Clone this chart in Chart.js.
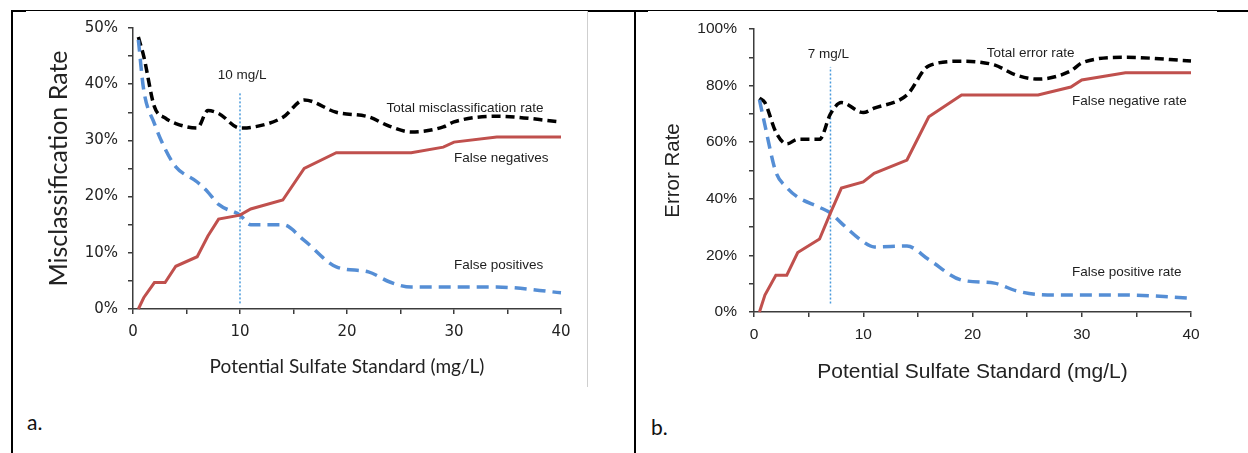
<!DOCTYPE html>
<html>
<head>
<meta charset="utf-8">
<script src="https://cdn.jsdelivr.net/npm/chart.js@4.4.1/dist/chart.umd.min.js"></script>
<style>
  body { margin: 0; background: #fff; }
  #page { position: relative; width: 1248px; height: 453px; overflow: hidden; background: #fff; }
  .rule { position: absolute; background: #000; }
  .frame { position: absolute; background: #cfcfcf; }
  canvas { position: absolute; }
  .tag { position: absolute; font-family: Lato, sans-serif; font-size: 21px; color: #111; line-height: 1; }
</style>
</head>
<body>
<div id="page">
  <!-- table borders -->
  <div class="rule" style="left:11px;top:10px;width:1237px;height:1px"></div>
  <div class="rule" style="left:11px;top:10px;width:15px;height:2px"></div>
  <div class="rule" style="left:587px;top:10px;width:61px;height:2px"></div>
  <div class="rule" style="left:1217px;top:10px;width:31px;height:2px"></div>
  <div class="rule" style="left:11px;top:10px;width:2px;height:443px"></div>
  <div class="rule" style="left:634px;top:10px;width:2px;height:443px"></div>
  <div class="frame" style="left:587px;top:11px;width:1px;height:376px"></div>

  <canvas id="chartA" width="565" height="375" style="left:20px;top:10px"></canvas>
  <canvas id="chartB" width="600" height="382" style="left:640px;top:10px"></canvas>

  <div class="tag" style="left:27px;top:411px">a.</div>
  <div class="tag" style="left:651px;top:416px">b.</div>
</div>
<script>
// sulfate standard values (mg/L) used by both panels
const sulfate = [0.5, 1, 2, 3, 4, 6, 7, 8, 10, 11, 14, 16, 19, 22, 24, 26, 29, 30, 34, 40]

// panel a - misclassification rates (%)
const falseNegA = [0, 2, 4.7, 4.7, 7.6, 9.3, 13, 16, 16.7, 17.8, 19.4, 25, 27.8, 27.8, 27.8, 27.8, 28.8, 29.7, 30.6, 30.6]
const falsePosA = [47.9, 39, 33, 28.5, 25.3, 22.6, 20.8, 18.6, 16.7, 15, 15, 12.2, 7.5, 6.6, 4.8, 3.9, 3.9, 3.9, 3.9, 2.9]
const totalA = [48.4, 45, 36, 34, 33, 32.2, 35.3, 34.8, 32.2, 32.3, 34.1, 37.2, 35, 34.2, 32.5, 31.5, 32.4, 33.3, 34.3, 33.3]
const cutoffA = 10
const cutoffSpanA = [1, 38.6]

// panel b - error rates (%)
const falseNegB = [0, 6, 13, 13, 21, 25.8, 35, 43.8, 46, 49, 53.7, 69, 76.7, 76.7, 76.7, 76.7, 79.5, 82, 84.5, 84.5]
const falsePosB = [75, 66, 49.5, 44, 40.6, 37, 35, 31.4, 24.8, 23, 23.3, 18.5, 11.3, 10.2, 7.5, 6.2, 6, 6, 6, 4.9]
const totalB = [75.6, 74, 63.6, 59.4, 61, 61, 70, 74, 70.5, 72, 76.7, 87, 88.6, 87.3, 83.7, 82.3, 85.2, 88, 90, 88.7]
const cutoffB = 7
const cutoffSpanB = [3, 86.6]

const xTitle = 'Potential Sulfate Standard (mg/L)'

function points(ys) {
    return ys.map((y, i) => ({x: sulfate[i], y: y}))
}

// text labels placed in data units
const notesPlugin = {
    id: 'notes',
    afterDatasetsDraw(chart, args, opts) {
        const {ctx, scales} = chart
        ctx.save()
        ctx.fillStyle = opts.color
        ctx.font = opts.font
        ctx.textBaseline = 'middle'
        opts.items.forEach(n => {
            ctx.textAlign = n.align || 'left'
            ctx.fillText(n.text, scales.x.getPixelForValue(n.x), scales.y.getPixelForValue(n.y))
        })
        ctx.restore()
    }
}

function series(fn, fp, total, cutoff, span) {
    return [
        {data: points(fn), borderColor: '#C0504D', borderWidth: 3, tension: 0},
        {data: points(fp), borderColor: '#558ED5', borderWidth: 3.5, borderDash: [12, 7], cubicInterpolationMode: 'monotone'},
        {data: points(total), borderColor: '#000', borderWidth: 3.5, borderDash: [9, 5], cubicInterpolationMode: 'monotone'},
        {data: span.map(v => ({x: cutoff, y: v})), borderColor: '#4A9BDC', borderWidth: 1.5, borderDash: [2, 2]}
    ]
}

function makeChart(id, p) {
    return new Chart(document.getElementById(id), {
        type: 'line',
        data: {datasets: series(p.fn, p.fp, p.total, p.cutoff, p.span)},
        options: {
            responsive: false,
            animation: false,
            devicePixelRatio: 1,
            layout: {padding: {top: p.padTop, right: p.padRight, left: 0, bottom: 0}},
            elements: {point: {radius: 0}, line: {borderCapStyle: 'butt'}},
            datasets: {line: {clip: false, fill: false}},
            plugins: {
                legend: {display: false},
                tooltip: {enabled: false},
                notes: {items: p.notes, font: '13.5px "Liberation Sans", Arial', color: '#1e1e1e'}
            },
            scales: {
                x: {
                    type: 'linear', min: 0, max: 40,
                    border: {display: true, color: '#3c3c3c', width: 1.5},
                    grid: {drawOnChartArea: false, tickLength: 5, color: '#3c3c3c', lineWidth: 1.5},
                    ticks: {
                        stepSize: 5, maxRotation: 0, padding: p.xTickPad, color: '#222',
                        font: p.tickFont,
                        callback: v => v % 10 === 0 ? v : ''
                    },
                    title: {display: true, text: xTitle, color: '#222', font: p.xTitleFont, padding: {top: 0, bottom: p.xTitlePad}},
                    afterFit: s => { s.height = p.xHeight; s.paddingLeft = 0; s.paddingRight = 0 }
                },
                y: {
                    min: 0, max: p.yMax,
                    border: {display: true, color: '#3c3c3c', width: 1.5},
                    grid: {drawOnChartArea: false, tickLength: 5, color: '#3c3c3c', lineWidth: 1.5},
                    ticks: {
                        stepSize: p.yMax / 10, padding: p.yTickPad, color: '#222',
                        font: p.tickFont,
                        callback: v => v % (p.yMax / 5) === 0 ? v + '%' : ''
                    },
                    title: {display: true, text: p.yTitle, color: '#222', font: p.yTitleFont, padding: {top: p.yTitlePad, bottom: 0}},
                    afterFit: s => { s.width = p.yWidth; s.paddingTop = 0; s.paddingBottom = 0 }
                }
            }
        },
        plugins: [notesPlugin]
    })
}

makeChart('chartA', {
    fn: falseNegA, fp: falsePosA, total: totalA, cutoff: cutoffA, span: cutoffSpanA,
    yMax: 50, yTitle: 'Misclassification Rate',
    padTop: 18, padRight: 24, yWidth: 113, xHeight: 76,
    tickFont: {family: 'DejaVu Sans', size: 15}, xTickPad: 9, yTickPad: 10,
    xTitleFont: {family: 'Lato', size: 19}, xTitlePad: 6.6,
    yTitleFont: {family: 'Lato', size: 25}, yTitlePad: 24,
    notes: [
        {text: '10 mg/L', x: 10.2, y: 41.5, align: 'center'},
        {text: 'Total misclassification rate', x: 23.7, y: 35.8},
        {text: 'False negatives', x: 30, y: 26.9},
        {text: 'False positives', x: 30, y: 7.8}
    ]
})

makeChart('chartB', {
    fn: falseNegB, fp: falsePosB, total: totalB, cutoff: cutoffB, span: cutoffSpanB,
    yMax: 100, yTitle: 'Error Rate',
    padTop: 19, padRight: 49, yWidth: 114, xHeight: 80,
    tickFont: {family: 'Liberation Sans', size: 15.5}, xTickPad: 8, yTickPad: 12,
    xTitleFont: {family: 'Liberation Sans', size: 21}, xTitlePad: 7.4,
    yTitleFont: {family: 'Liberation Sans', size: 20.5}, yTitlePad: 20.7,
    notes: [
        {text: '7 mg/L', x: 6.8, y: 91.2, align: 'center'},
        {text: 'Total error rate', x: 21.3, y: 91.5},
        {text: 'False negative rate', x: 29.1, y: 74.6},
        {text: 'False positive rate', x: 29.1, y: 14.1}
    ]
})
</script>
</body>
</html>
